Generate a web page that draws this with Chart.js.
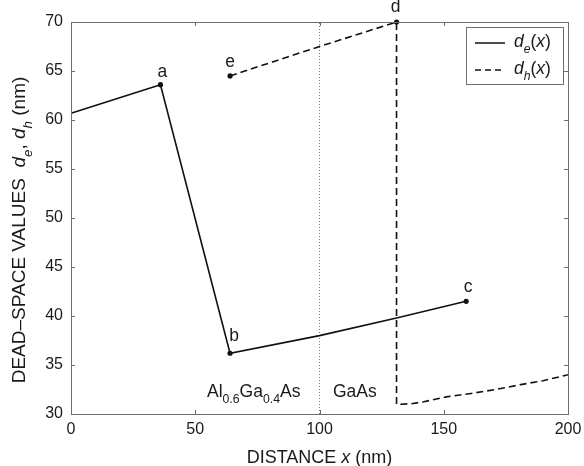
<!DOCTYPE html>
<html>
<head>
<meta charset="utf-8">
<script src="https://cdn.jsdelivr.net/npm/chart.js@4"></script>
<style>
  html, body { margin: 0; padding: 0; background: #fff; }
  #wrap { width: 584px; height: 466px; }
</style>
</head>
<body>
<div id="wrap"><canvas id="myChart"></canvas></div>
<script>
// d_e(x) curve, solid
const deX = [0, 36, 64, 100, 131, 159];
const deY = [60.7, 63.6, 36.2, 38.0, 39.8, 41.5];
const deMarks = [1, 2, 5];

// d_h(x) curve, dashed
const dhX = [64, 100, 131, 131, 133, 137, 142, 151, 161, 171, 181, 190, 200];
const dhY = [64.5, 67.5, 70, 31.0, 31.0, 31.05, 31.25, 31.75, 32.1, 32.5, 33.0, 33.4, 34.0];
const dhMarks = [0, 2];

// interface between the two layers
const boundaryX = [100, 100];
const boundaryY = [30, 70];

// point names
const markNames = ['a', 'b', 'c', 'd', 'e'];
const markX = [36, 64, 159, 131, 64];
const markY = [63.6, 36.2, 41.5, 70, 64.5];

const xTicks = [0, 50, 100, 150, 200];
const yTicks = [30, 35, 40, 45, 50, 55, 60, 65, 70];

const FONT = '"Liberation Sans", Arial, Helvetica, sans-serif';
const ctx = document.getElementById('myChart');

function pts(xs, ys) {
  return xs.map((x, i) => ({ x: x, y: ys[i] }));
}
function radii(n, marks) {
  const r = [];
  for (let i = 0; i < n; i++) r.push(marks.includes(i) ? 2.6 : 0);
  return r;
}

// text made of pieces, some italic, some subscript
function richWidth(c, parts, size) {
  let w = 0;
  parts.forEach(p => {
    const s = p.sub ? size * 0.7 : size;
    c.font = (p.it ? 'italic ' : '') + s + 'px ' + FONT;
    w += c.measureText(p.t).width;
  });
  return w;
}
function drawRich(c, x, y, parts, size, align) {
  let cx = x;
  if (align === 'center') cx = x - richWidth(c, parts, size) / 2;
  c.textAlign = 'left';
  c.textBaseline = 'alphabetic';
  parts.forEach(p => {
    const s = p.sub ? size * 0.7 : size;
    c.font = (p.it ? 'italic ' : '') + s + 'px ' + FONT;
    c.fillText(p.t, cx, p.sub ? y + size * 0.35 : y);
    cx += c.measureText(p.t).width;
  });
}

const extras = {
  id: 'extras',
  afterDraw(chart) {
    const c = chart.ctx;
    const a = chart.chartArea;
    const xs = chart.scales.x, ys = chart.scales.y;
    c.save();

    // frame and inward ticks on all four sides
    c.strokeStyle = '#6e6e6e';
    c.lineWidth = 1;
    c.strokeRect(Math.round(a.left) + 0.5, Math.round(a.top) + 0.5,
      Math.round(a.right - a.left), Math.round(a.bottom - a.top));
    c.beginPath();
    xTicks.forEach(v => {
      const px = Math.round(xs.getPixelForValue(v)) + 0.5;
      c.moveTo(px, a.bottom); c.lineTo(px, a.bottom - 4);
      c.moveTo(px, a.top); c.lineTo(px, a.top + 4);
    });
    yTicks.forEach(v => {
      const py = Math.round(ys.getPixelForValue(v)) + 0.5;
      c.moveTo(a.left, py); c.lineTo(a.left + 4, py);
      c.moveTo(a.right, py); c.lineTo(a.right - 4, py);
    });
    c.stroke();

    c.fillStyle = '#1a1a1a';

    // point names
    const offs = { a: [2, -13], b: [4, -17], c: [2, -14], d: [-1, -15], e: [0, -14] };
    c.font = '17.5px ' + FONT;
    c.textAlign = 'center';
    c.textBaseline = 'middle';
    markNames.forEach((n, i) => {
      const px = xs.getPixelForValue(markX[i]) + offs[n][0];
      const py = ys.getPixelForValue(markY[i]) + offs[n][1];
      c.fillText(n, px, py);
    });

    // layer names
    drawRich(c, 207, 397, [
      { t: 'Al' }, { t: '0.6', sub: true }, { t: 'Ga' }, { t: '0.4', sub: true }, { t: 'As' }
    ], 17.5, 'left');
    drawRich(c, 333, 397, [{ t: 'GaAs' }], 17.5, 'left');

    // axis titles
    drawRich(c, (a.left + a.right) / 2, 463, [
      { t: 'DISTANCE ' }, { t: 'x', it: true }, { t: ' (nm)' }
    ], 18, 'center');

    c.save();
    c.translate(25, 230);
    c.rotate(-Math.PI / 2);
    drawRich(c, 0, 0, [
      { t: 'DEAD\u2013SPACE VALUES  ' }, { t: 'd', it: true }, { t: 'e', it: true, sub: true },
      { t: ', ' }, { t: 'd', it: true }, { t: 'h', it: true, sub: true }, { t: ' (nm)' }
    ], 19, 'center');
    c.restore();

    // legend
    c.fillStyle = '#fff';
    c.fillRect(466, 27, 97, 57);
    c.strokeStyle = '#6e6e6e';
    c.strokeRect(466.5, 27.5, 97, 57);
    c.strokeStyle = '#111';
    c.lineWidth = 1.5;
    c.beginPath(); c.moveTo(475, 43); c.lineTo(505, 43); c.stroke();
    c.setLineDash([6, 4]);
    c.beginPath(); c.moveTo(475, 70); c.lineTo(505, 70); c.stroke();
    c.setLineDash([]);
    c.fillStyle = '#1a1a1a';
    drawRich(c, 514, 47, [
      { t: 'd', it: true }, { t: 'e', it: true, sub: true }, { t: '(' }, { t: 'x', it: true }, { t: ')' }
    ], 17.5, 'left');
    drawRich(c, 514, 74, [
      { t: 'd', it: true }, { t: 'h', it: true, sub: true }, { t: '(' }, { t: 'x', it: true }, { t: ')' }
    ], 17.5, 'left');

    c.restore();
  }
};

new Chart(ctx, {
  type: 'line',
  data: {
    datasets: [{
      label: 'd_e(x)',
      data: pts(deX, deY),
      borderColor: '#111',
      backgroundColor: '#111',
      borderWidth: 1.6,
      pointRadius: radii(deX.length, deMarks),
      pointBorderWidth: 0,
      tension: 0,
      clip: false
    }, {
      label: 'd_h(x)',
      data: pts(dhX, dhY),
      borderColor: '#111',
      backgroundColor: '#111',
      borderWidth: 1.6,
      borderDash: [7, 4],
      pointRadius: radii(dhX.length, dhMarks),
      pointBorderWidth: 0,
      tension: 0,
      clip: false
    }, {
      label: 'boundary',
      data: pts(boundaryX, boundaryY),
      borderColor: '#777',
      borderWidth: 1,
      borderDash: [1, 2],
      pointRadius: 0
    }]
  },
  options: {
    responsive: true,
    maintainAspectRatio: false,
    animation: false,
    events: [],
    layout: { padding: { top: 22, right: 16, left: 0, bottom: 0 } },
    plugins: {
      legend: { display: false },
      tooltip: { enabled: false }
    },
    scales: {
      x: {
        type: 'linear',
        min: 0,
        max: 200,
        afterBuildTicks: s => { s.ticks = xTicks.map(v => ({ value: v })); },
        afterFit: s => { s.height = 52; s.paddingLeft = 0; s.paddingRight = 0; },
        grid: { display: false, drawTicks: false },
        border: { display: false },
        ticks: { padding: 6, color: '#1a1a1a', font: { family: FONT, size: 16 } }
      },
      y: {
        type: 'linear',
        min: 30,
        max: 70,
        afterBuildTicks: s => { s.ticks = yTicks.map(v => ({ value: v })); },
        afterFit: s => { s.width = 71; s.paddingTop = 0; s.paddingBottom = 0; },
        grid: { display: false, drawTicks: false },
        border: { display: false },
        ticks: { padding: 8, color: '#1a1a1a', font: { family: FONT, size: 16 } }
      }
    }
  },
  plugins: [extras]
});
</script>
</body>
</html>
